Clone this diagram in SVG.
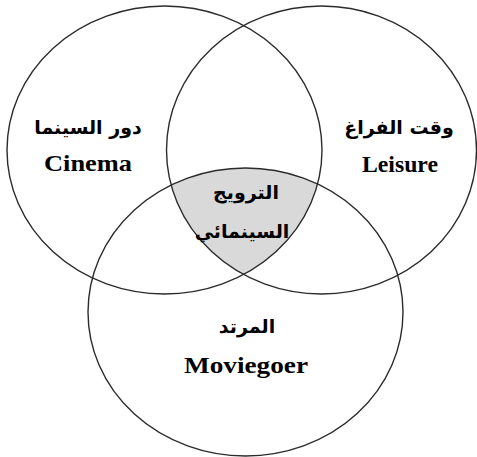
<svg xmlns="http://www.w3.org/2000/svg" width="477" height="457" viewBox="0 0 477 457">
<style>
.c{fill:none;stroke:#2b2b2b;stroke-width:1.4}
.en{font-family:"Liberation Serif","Times New Roman",serif;font-weight:bold;font-size:24px;fill:#000;text-anchor:middle}
.ar{font-family:"DejaVu Sans","Noto Sans",sans-serif;font-weight:bold;font-size:19px;fill:#000;text-anchor:middle}
</style>
<defs>
<clipPath id="clipL"><ellipse cx="164.5" cy="150" rx="157.5" ry="144"/></clipPath>
<clipPath id="clipR"><ellipse cx="321.5" cy="150" rx="155" ry="144"/></clipPath>
</defs>
<g id="overlap">
<g clip-path="url(#clipL)"><g clip-path="url(#clipR)">
<ellipse cx="245.5" cy="312" rx="157.5" ry="144" fill="#d9d9d9"/>
</g></g>
</g>
<g id="cinema">
<ellipse class="c" cx="164.5" cy="150" rx="157.5" ry="144"/>
<text class="ar" x="88" y="134" direction="rtl">دور السينما</text>
<text class="en" x="88" y="171" textLength="88" lengthAdjust="spacingAndGlyphs">Cinema</text>
</g>
<g id="leisure">
<ellipse class="c" cx="321.5" cy="150" rx="155" ry="144"/>
<text class="ar" x="399" y="134" direction="rtl">وقت الفراغ</text>
<text class="en" x="400" y="172" textLength="76" lengthAdjust="spacingAndGlyphs">Leisure</text>
</g>
<g id="moviegoer">
<ellipse class="c" cx="245.5" cy="312" rx="157.5" ry="144"/>
<text class="ar" x="247" y="333" direction="rtl">المرتد</text>
<text class="en" x="246" y="373" textLength="124" lengthAdjust="spacingAndGlyphs">Moviegoer</text>
</g>
<g id="cinematic-recreation">
<text class="ar" x="246" y="199" direction="rtl">الترويج</text>
<text class="ar" x="242" y="238" direction="rtl">السينمائي</text>
</g>
<g id="connectors"></g>
</svg>
